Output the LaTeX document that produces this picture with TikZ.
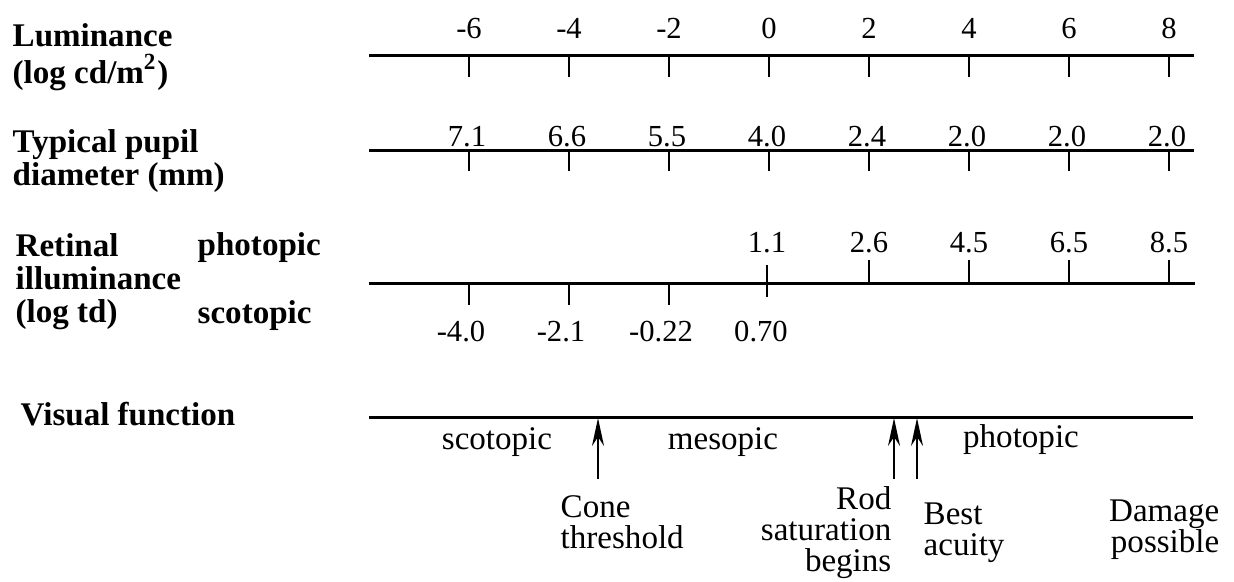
\documentclass[tikz,border=0pt]{standalone}
\usepackage{fontspec}
\setmainfont{Liberation Serif}
\usetikzlibrary{arrows.meta,positioning}
\tikzset{
  axisline/.style={line width=0.85pt},
  tickmark/.style={line width=0.6pt},
  numlbl/.style={font=\fontsize{8.7}{8.7}\selectfont,inner sep=0pt,anchor=base},
  rowlbl/.style={font=\fontsize{9.4}{9.4}\selectfont\bfseries,align=left,
    anchor=west,inner sep=0pt},
  notelbl/.style={font=\fontsize{9.4}{8.8}\selectfont,inner sep=0pt},
  uparrow/.style={-{Stealth[length=2.8mm,width=1.2mm]},line width=0.6pt}
}

\begin{document}
\begin{tikzpicture}[x=0.01cm,y=0.01cm]
  \useasboundingbox (0,0) rectangle (1234,-581);
  % row titles
  \node[rowlbl] (tlum) at (12,-57) {Luminance\\[1pt](log cd/m\smash{\textsuperscript{2}})};
  \node[rowlbl] (tpup) at (12,-161) {Typical pupil\\diameter (mm)};
  \node[rowlbl] (tret) at (15,-282) {Retinal\\illuminance\\(log td)};
  \node[rowlbl] (tphot) at (197,-248) {photopic};
  \node[rowlbl] (tscot) at (197,-316) {scotopic};
  \node[rowlbl] (tvis) at (20,-414) {Visual function};
  % axis lines
  \coordinate (lumL) at (369,-55);   \coordinate (lumR) at (1194,-55);
  \coordinate (pupL) at (369,-150);  \coordinate (pupR) at (1194,-150);
  \coordinate (retL) at (369,-283);  \coordinate (retR) at (1195,-283);
  \coordinate (visL) at (369,-417);  \coordinate (visR) at (1193,-417);
  \foreach \a/\b in {lumL/lumR,pupL/pupR,retL/retR,visL/visR}
    \draw[axisline] (\a)--(\b);
  % luminance
  \foreach \v in {-6,-4,-2,0,2,4,6,8} {
    \draw[tickmark] ({769+50*\v},-55) -- ++(0,-22);
    \node[numlbl] (lum\v) at ({769+50*\v},-38) {\v};
  }
  % pupil diameter
  \foreach \v/\t in {-6/7.1,-4/6.6,-2/5.5,0/4.0,2/2.4,4/2.0,6/2.0,8/2.0} {
    \draw[tickmark] ({769+50*\v},-150) -- ++(0,-21);
    \node[numlbl] (pup\v) at ({767+50*\v},-146) {\t};
  }
  % retinal illuminance
  \foreach \v/\t in {2/2.6,4/4.5,6/6.5,8/8.5} {
    \draw[tickmark] ({769+50*\v},-283) -- ++(0,23);
    \node[numlbl] (rp\v) at ({769+50*\v},-252) {\t};
  }
  \node[numlbl] (rp0) at (767,-252) {1.1};
  \draw[tickmark] (767,-265) -- (767,-297);
  \foreach \v in {-6,-4,-2}
    \draw[tickmark] ({769+50*\v},-283) -- ++(0,-22);
  \foreach \v/\t in {-6/-4.0,-4/-2.1,-2/-0.22,0/0.70}
    \node[numlbl] (rs\v) at ({761+50*\v},-341) {\t};
  % visual function
  \node[notelbl] (fscot) at (497,-442) {scotopic};
  \node[notelbl] (fmes) at (723,-442) {mesopic};
  \node[notelbl] (fphot) at (1021,-440) {photopic};
  \node[notelbl,align=left,anchor=west] (cone) at (560,-522) {Cone\\threshold};
  \node[notelbl,align=right,anchor=east] (rod) at (892,-533) {Rod\\saturation\\begins};
  \node[notelbl,align=left,anchor=west] (best) at (923,-533) {Best\\acuity};
  \node[notelbl,align=right,anchor=east] (dmg) at (1220,-530) {Damage\\possible};
  \foreach \n/\x in {cone/598,rod/894,best/917} {
    \coordinate (\n T) at (\x,-418);
    \coordinate (\n F) at (\x,-479);
    \draw[uparrow] (\n F)--(\n T);
  }
\end{tikzpicture}
\end{document}
